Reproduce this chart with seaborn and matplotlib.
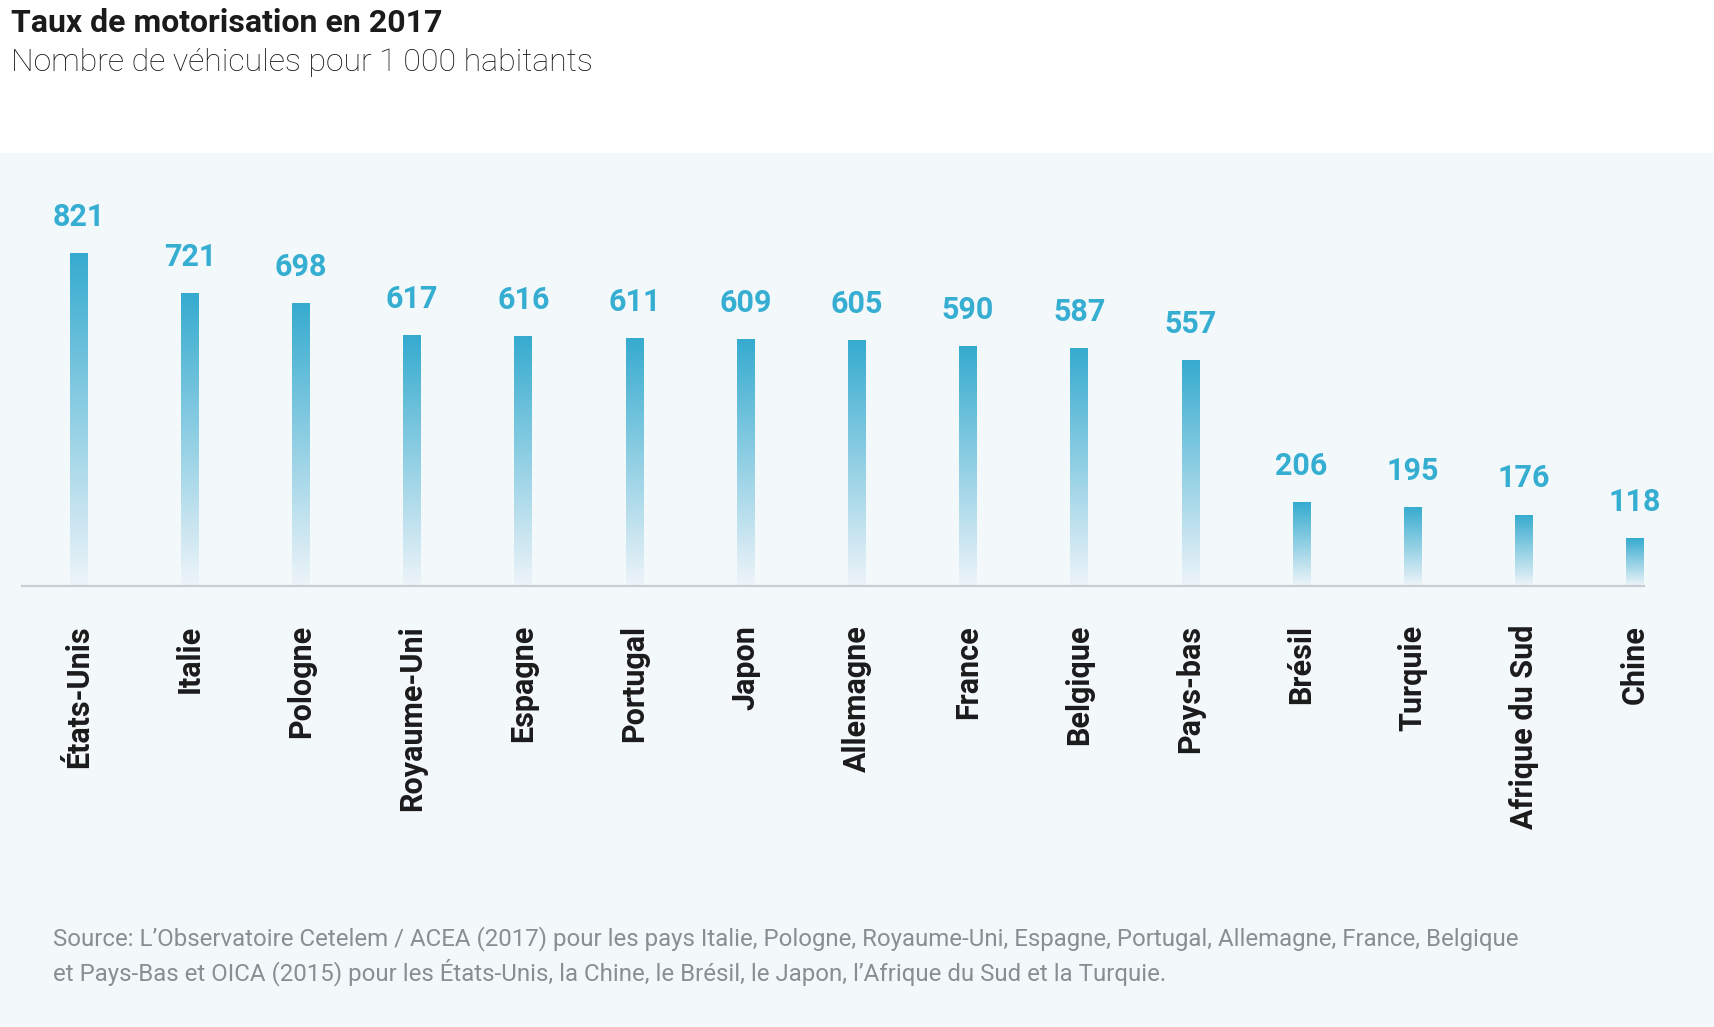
"""
Taux de motorisation en 2017 - bar chart with gradient bars
"""
import numpy as np
import pandas as pd
import matplotlib.pyplot as plt
import matplotlib.patches as mpatches
from matplotlib.colors import LinearSegmentedColormap
import seaborn as sns

# =========================
# Data
# =========================
countries = ["États-Unis", "Italie", "Pologne", "Royaume-Uni", "Espagne", "Portugal",
             "Japon", "Allemagne", "France", "Belgique", "Pays-bas", "Brésil",
             "Turquie", "Afrique du Sud", "Chine"]
vehicles = [821, 721, 698, 617, 616, 611, 609, 605, 590, 587, 557, 206, 195, 176, 118]

title = "Taux de motorisation en 2017"
subtitle = "Nombre de véhicules pour 1\u2009000 habitants"
source = ("Source: L’Observatoire Cetelem / ACEA (2017) pour les pays Italie, Pologne, Royaume-Uni, "
          "Espagne, Portugal, Allemagne, France, Belgique\n"
          "et Pays-Bas et OICA (2015) pour les États-Unis, la Chine, le Brésil, le Japon, "
          "l’Afrique du Sud et la Turquie.")

df = pd.DataFrame({"country": countries, "value": vehicles})

# =========================
# Style
# =========================
sns.set_style("white")
plt.rcParams["font.family"] = ["Roboto", "DejaVu Sans"]

BG = "#F3F8FB"
BAR_TOP = "#35ABCF"
BAR_BOTTOM = "#EEF4F9"
LABEL_COLOR = "#35AED2"

W, H = 1715, 1027
fig = plt.figure(figsize=(W / 100, H / 100), dpi=100, facecolor="white")

# light panel behind the chart
fig.patches.append(mpatches.Rectangle((0, 0), 1, 1 - 153 / H, transform=fig.transFigure,
                                      facecolor=BG, edgecolor="none", zorder=-5))

ax_left, ax_right = 22 / W, 1644 / W
ax_bottom = (H - 586) / H
ymax = 900
ax_height = ymax * 0.406 / H
ax = fig.add_axes([ax_left, ax_bottom, ax_right - ax_left, ax_height])
ax.set_facecolor("none")
ax.set_zorder(2)

sns.barplot(data=df, x="country", y="value", order=countries, color=BAR_TOP,
            width=0.16, ax=ax, zorder=2)

# gradient fill for each bar
cmap = LinearSegmentedColormap.from_list("grad", [BAR_BOTTOM, BAR_TOP])
grad = np.linspace(0, 1, 256).reshape(-1, 1)
for patch in list(ax.patches):
    x0, y0 = patch.get_x(), patch.get_y()
    w, h = patch.get_width(), patch.get_height()
    patch.set_alpha(0)
    im = ax.imshow(grad, cmap=cmap, aspect="auto", origin="lower",
                   extent=(x0, x0 + w, y0, y0 + h), zorder=3)
    clip = mpatches.Rectangle((x0, y0), w, h, transform=ax.transData)
    im.set_clip_path(clip)
    ax.annotate(f"{int(round(h))}", (x0 + w / 2, h), xytext=(0, 19.5),
                textcoords="offset points", ha="center", va="baseline",
                fontsize=22, fontweight="bold", color=LABEL_COLOR, annotation_clip=False)
ax.set_xlim(-0.51, 14.08)
ax.set_ylim(0, ymax)

# axes cosmetics
for side in ["top", "left", "right"]:
    ax.spines[side].set_visible(False)
ax.spines["bottom"].set_color("#C9CED3")
ax.spines["bottom"].set_linewidth(1.6)
ax.spines["bottom"].set_zorder(4)
ax.set_yticks([])
ax.set_xlabel("")
ax.set_ylabel("")
ax.tick_params(axis="x", length=0, pad=28)
ax.set_xticks(range(len(countries)))
ax.set_xticklabels(countries, rotation=90, fontsize=22, fontweight="bold",
                   color="#1B1B1B", ha="center", va="top")

# titles and source
fig.text(11 / W, 1 - 8 / H, title, ha="left", va="top", fontsize=23,
         fontweight="bold", color="#1B1B1B")
fig.text(11 / W, 1 - 48 / H, subtitle, ha="left", va="top", fontsize=23,
         fontweight="light", color="#141414")
fig.text(53 / W, 1 - 926 / H, source, ha="left", va="top", fontsize=17.3,
         fontweight="normal", color="#8A8D91", linespacing=1.35)

plt.savefig("out.png", dpi=100, facecolor=fig.get_facecolor())
plt.close()
